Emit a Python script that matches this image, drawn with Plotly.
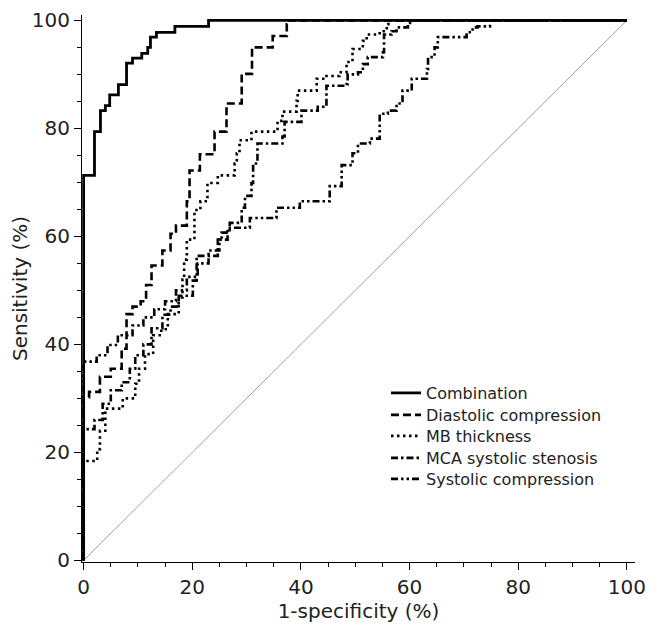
import plotly.graph_objects as go

# ---- data ----
series_names = ["Combination", "Diastolic compression", "MB thickness",
                "MCA systolic stenosis", "Systolic compression"]

combination_x = [0, 0, 2.0, 3.1, 4.0, 4.8, 6.4, 7.9, 9.0, 10.7, 11.8, 12.3, 13.4, 16.8, 23.0, 100]
combination_y = [0, 71.3, 79.4, 83.3, 84.2, 86.2, 88.1, 92.1, 93.0, 93.9, 95.0, 96.9, 97.8, 98.9, 100, 100]

diastolic_x = [0, 0, 1.0, 3.0, 5.0, 7.0, 7.9, 9.0, 10.5, 11.5, 12.5, 14.5, 16.0, 17.0, 19.0, 19.5,
               21.4, 24.1, 26.3, 29.1, 31.0, 34.8, 37.4, 37.6, 100]
diastolic_y = [0, 30.2, 31.2, 34.0, 35.5, 39.2, 45.6, 47.0, 48.0, 51.0, 54.6, 57.4, 60.5, 62.0, 66.5, 72.2,
               75.2, 79.4, 84.6, 90.1, 95.0, 97.1, 99.3, 100, 100]

mb_x = [0, 0, 2.5, 3.0, 4.0, 7.2, 9.5, 10.2, 11.3, 12.8, 14.3, 15.5, 17.5, 18.2, 18.5, 19.0, 20.4,
        21.5, 22.8, 24.7, 27.8, 28.2, 28.7, 30.9, 35.7, 36.6, 39.2, 39.4, 42.9, 44.7, 47.1, 48.4,
        49.5, 51.4, 52.1, 54.5, 55.8, 56.1, 100]
mb_y = [0, 18.4, 20.6, 24.0, 28.1, 30.0, 32.7, 35.5, 38.2, 41.7, 42.8, 45.6, 48.7, 52.0, 55.7, 59.4, 64.9,
        66.5, 69.9, 71.3, 73.5, 75.4, 77.8, 79.4, 81.4, 83.1, 85.1, 87.0, 89.2, 89.7, 90.4, 92.3,
        94.7, 96.2, 97.4, 98.0, 99.3, 100, 100]

mca_x = [0, 0, 2.0, 3.5, 5.0, 7.0, 8.5, 9.5, 11.0, 12.5, 14.5, 16.0, 17.5, 20.1, 20.8, 24.7, 25.4,
         26.9, 29.1, 29.7, 30.9, 31.2, 32.0, 36.6, 37.0, 40.1, 43.1, 44.7, 48.4, 48.6, 50.5, 51.4,
         52.3, 55.1, 55.3, 56.7, 57.6, 59.7, 60.1, 100]
mca_y = [0, 24.3, 26.0, 29.0, 31.5, 33.0, 35.5, 38.0, 40.0, 43.0, 45.5, 47.0, 49.0, 51.8, 56.4, 59.4, 60.7,
         62.5, 65.3, 67.5, 69.9, 73.5, 77.2, 78.5, 81.2, 83.3, 84.0, 87.9, 88.2, 90.0, 90.4, 91.9,
         93.2, 94.1, 97.4, 98.0, 98.7, 98.9, 100, 100]

systolic_x = [0, 0, 2.4, 4.4, 6.3, 9.0, 11.0, 13.0, 15.0, 17.0, 19.0, 21.0, 23.0, 25.0, 26.5, 30.6,
              35.5, 39.8, 45.3, 47.5, 49.5, 50.5, 52.7, 54.5, 56.0, 57.6, 58.7, 60.4, 63.2, 63.4,
              64.6, 65.2, 70.5, 71.6, 72.5, 74.8, 100]
systolic_y = [0, 36.8, 38.0, 39.9, 41.7, 43.5, 45.0, 46.5, 48.0, 50.0, 52.5, 55.0, 57.4, 59.4, 61.6, 63.4,
              65.3, 66.5, 69.3, 73.2, 75.4, 77.2, 78.1, 82.7, 83.3, 84.6, 87.0, 89.2, 91.0, 93.2,
              95.0, 96.9, 97.8, 98.7, 98.9, 100, 100]

diag_x = [0, 100]
diag_y = [0, 100]

x_ticks = [0, 20, 40, 60, 80, 100]
y_ticks = [0, 20, 40, 60, 80, 100]

FONT = "DejaVu Sans, Verdana, sans-serif"
TXT = "#222222"

# page body has an 8px default margin, so the figure is made 8px smaller
W, H = 654, 623
L, R, T, B = 74, 27, 7, 69
plot_h = H - T - B

fig = go.Figure()

fig.add_trace(go.Scatter(x=diag_x, y=diag_y, mode="lines", showlegend=False,
                         line=dict(color="#a0a0a0", width=1), hoverinfo="skip"))

styles = [
    (combination_x, combination_y, dict(color="black", width=2.8, dash="solid")),
    (diastolic_x, diastolic_y, dict(color="black", width=2.6, dash="8px,4px")),
    (mb_x, mb_y, dict(color="black", width=2.6, dash="2.5px,3.5px")),
    (mca_x, mca_y, dict(color="black", width=2.6, dash="7px,3px,2.5px,3px")),
    (systolic_x, systolic_y, dict(color="black", width=2.6, dash="7px,3px,2.5px,3px,2.5px,3px")),
]
legend_ids = ["legend", "legend2", "legend3", "legend4", "legend5"]
row_px = [385, 407, 428, 450, 471]   # legend row centres in figure pixels

for name, lid, (xs, ys, ln) in zip(series_names, legend_ids, styles):
    fig.add_trace(go.Scatter(x=xs, y=ys, mode="lines", name=name, legend=lid,
                             line=dict(shape="hv", **ln)))

legend_x = (378 - L) / (W - L - R)
legend_layout = {}
for lid, ypx in zip(legend_ids, row_px):
    legend_layout[lid] = dict(
        x=legend_x, y=1 - (ypx - T) / plot_h, xanchor="left", yanchor="middle",
        bgcolor="rgba(0,0,0,0)", font=dict(size=16, family=FONT, color=TXT))

fig.update_layout(
    width=W, height=H,
    margin=dict(l=L, r=R, t=T, b=B, autoexpand=False),
    paper_bgcolor="white", plot_bgcolor="white",
    font=dict(family=FONT, color=TXT, size=16),
    showlegend=True,
    **legend_layout,
)

fig.update_xaxes(
    automargin=False, ticklabeloverflow="allow",
    range=[-0.3, 101.5], tickvals=x_ticks, ticktext=[str(v) for v in x_ticks],
    showgrid=False, zeroline=False, showline=True, linecolor="black", linewidth=1,
    ticks="outside", ticklen=7, tickwidth=1, tickcolor="black",
    minor=dict(dtick=5, ticks="outside", ticklen=4, tickcolor="black", showgrid=False),
    tickfont=dict(size=20, family=FONT, color=TXT),
    title=dict(text="1-specificity (%)", font=dict(size=20, family=FONT, color=TXT), standoff=5),
)
fig.update_yaxes(
    automargin=False, ticklabeloverflow="allow",
    range=[-0.3, 101], tickvals=y_ticks, ticktext=[str(v) for v in y_ticks],
    showgrid=False, zeroline=False, showline=True, linecolor="black", linewidth=1,
    ticks="outside", ticklen=7, tickwidth=1, tickcolor="black",
    minor=dict(dtick=5, ticks="outside", ticklen=4, tickcolor="black", showgrid=False),
    tickfont=dict(size=20, family=FONT, color=TXT),
    title=dict(text="Sensitivity (%)", font=dict(size=20, family=FONT, color=TXT), standoff=26),
)

fig.write_html("out.html")
